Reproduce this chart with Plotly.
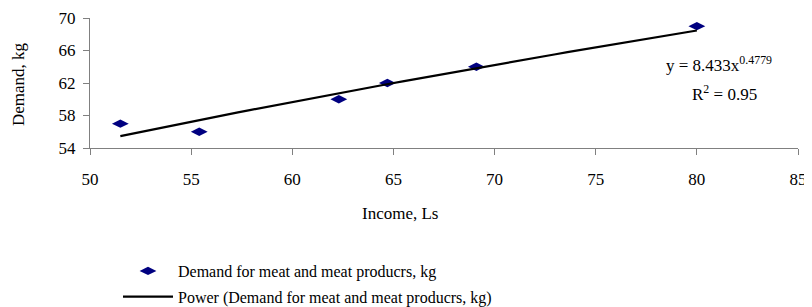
import numpy as np
import plotly.graph_objects as go

income = [51.5, 55.4, 62.3, 64.7, 69.1, 80.0]
demand = [57, 56, 60, 62, 64, 69]
coef_a = 8.433
coef_b = 0.4779
x_ticks = [50, 55, 60, 65, 70, 75, 80, 85]
y_ticks = [54, 58, 62, 66, 70]

series_name = "Demand for meat and meat producrs, kg"
trend_name = "Power (Demand for meat and meat producrs, kg)"

xt = np.linspace(min(income), max(income), 50)
yt = coef_a * xt ** coef_b

FONT = "Liberation Serif, Times New Roman, serif"

# page body has an 8px margin; figure pixels = window pixels - 8
OFF = 8
W, H = 812 - OFF, 307 - OFF
# plot area in window pixels: x 90..798, y 18..148
PX0, PX1, PY0, PY1 = 90, 798, 18, 148


def px(xp):
    return (xp - PX0) / (PX1 - PX0)


def py(yp):
    return (PY1 - yp) / (PY1 - PY0)


fig = go.Figure()
fig.add_trace(go.Scatter(
    x=income, y=demand, mode="markers", name=series_name,
    marker=dict(symbol="diamond-wide", size=12, color="#000080"),
    legendgroup="a",
))
fig.add_trace(go.Scatter(
    x=xt, y=yt, mode="lines", name=trend_name,
    line=dict(color="black", width=2.2),
    legendgroup="b",
))

fig.update_layout(
    width=W, height=H,
    margin=dict(l=PX0 - OFF, r=812 - PX1, t=PY0 - OFF, b=307 - PY1,
                autoexpand=False),
    paper_bgcolor="white", plot_bgcolor="white",
    font=dict(family=FONT, size=16, color="black"),
    showlegend=True,
    legend=dict(
        x=px(118), y=py(254), xanchor="left", yanchor="top",
        font=dict(family=FONT, size=16, color="black"),
        tracegroupgap=2, bgcolor="rgba(0,0,0,0)", itemwidth=50,
    ),
    xaxis=dict(
        range=[50, 85], tickvals=x_ticks, ticktext=[str(v) for v in x_ticks],
        showgrid=False, zeroline=False, showline=True, linecolor="#808080",
        linewidth=1, ticks="outside", ticklen=6, tickcolor="#808080",
        tickfont=dict(family=FONT, size=17), ticklabelstandoff=10,
        automargin=False,
    ),
    yaxis=dict(
        range=[54, 70], tickvals=y_ticks, ticktext=[str(v) for v in y_ticks],
        showgrid=False, zeroline=False, showline=True, linecolor="#808080",
        linewidth=1, ticks="outside", ticklen=6, tickcolor="#808080",
        tickfont=dict(family=FONT, size=17), ticklabelstandoff=4,
        automargin=False,
    ),
    annotations=[
        dict(text="Income, Ls", xref="paper", yref="paper",
             x=px(400), y=py(213), xanchor="center", yanchor="middle",
             showarrow=False, font=dict(family=FONT, size=17)),
        dict(text="Demand, kg", xref="paper", yref="paper",
             x=px(18), y=py(84), xanchor="center", yanchor="middle",
             textangle=-90, showarrow=False,
             font=dict(family=FONT, size=17)),
        dict(text="y = 8.433x<sup>0.4779</sup>", xref="paper", yref="paper",
             x=px(664), y=py(64), xanchor="left", yanchor="middle",
             showarrow=False, font=dict(family=FONT, size=17)),
        dict(text="R<sup>2</sup> = 0.95", xref="paper", yref="paper",
             x=px(690), y=py(93), xanchor="left", yanchor="middle",
             showarrow=False, font=dict(family=FONT, size=17)),
    ],
)

fig.write_html("out.html")
